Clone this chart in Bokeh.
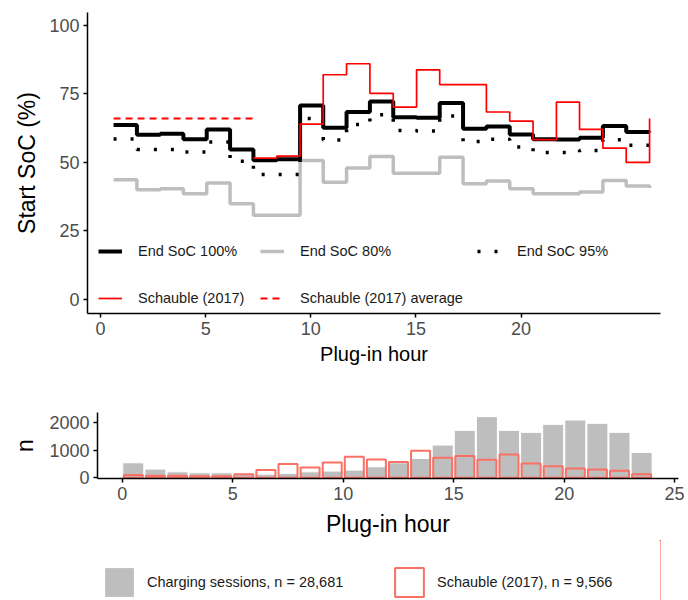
from bokeh.plotting import figure
from bokeh.models import Range1d, FixedTicker, Legend, LegendItem, BoxAnnotation
from bokeh.layouts import column
from bokeh.embed import file_html
from bokeh.resources import INLINE

FONT = "Liberation Sans"

# ---------------- Top panel data: start SoC by plug-in hour ----------------
# x positions of the step corners, as read on the plug-in hour axis
step_hour = [0.62, 1.73, 2.84, 3.94, 5.05, 6.16, 7.27, 8.38, 9.49, 10.59, 11.70, 12.81,
             13.92, 15.03, 16.13, 17.24, 18.35, 19.46, 20.57, 21.68, 22.78, 23.89, 25.00, 26.11]
soc_end100 = [63.7, 60.1, 60.5, 58.5, 62.0, 54.7, 50.8, 51.2, 70.8, 62.7, 68.4, 72.2,
              66.5, 66.3, 71.7, 62.3, 63.1, 60.2, 58.5, 58.4, 59.0, 63.3, 61.1, 61.0]
soc_end80 = [43.7, 40.0, 40.4, 38.6, 42.5, 34.9, 30.7, 30.7, 50.7, 42.8, 48.0, 52.2,
             46.1, 46.1, 51.9, 42.2, 43.2, 40.4, 38.6, 38.6, 39.2, 43.4, 41.4, 40.7]
soc_end95 = [58.6, 54.7, 54.7, 53.8, 57.5, 50.4, 45.6, 45.6, 66.0, 58.2, 63.8, 67.4,
             61.7, 61.5, 66.9, 57.6, 58.5, 55.6, 53.6, 53.6, 54.4, 58.3, 56.3, 55.0]
schauble = [None, None, None, None, None, None, 51.6, 52.3, 64.0, 82.0, 86.0, 75.2,
            70.2, 83.8, 78.4, 78.4, 68.4, 65.1, 58.3, 72.0, 62.1, 55.2, 50.0, 66.0]
schauble_avg = 66.0
schauble_avg_first, schauble_avg_last = 0, 6   # step indices covered by the average line

top_x_ticks = [0, 5, 10, 15, 20]
top_y_ticks = [0, 25, 50, 75, 100]

# ---------------- Bottom panel data: sessions per plug-in hour ----------------
hist_hour = list(range(24))
sessions_n = [543, 314, 217, 181, 181, 125, 133, 156, 217, 243, 278, 398,
              543, 700, 1184, 1715, 2210, 1715, 1642, 1932, 2089, 1968, 1642, 917]
schauble_n = [97, 74, 70, 60, 60, 133, 278, 496, 374, 554, 761, 664,
              570, 978, 725, 785, 652, 845, 520, 422, 338, 302, 254, 133]
bottom_x_ticks = [0, 5, 10, 15, 20, 25]
bottom_y_ticks = [0, 1000, 2000]

BLACK = "#000000"
GREY_LINE = "#BEBEBE"
RED = "#FF0000"
BAR_GREY = "#BEBEBE"
SALMON = "#FA7064"
TICK_COL = "#4D4D4D"


def style_axes(p, tick_size, title_size, title_standoff):
    p.grid.visible = False
    p.outline_line_color = None
    p.background_fill_color = "white"
    for ax in p.axis:
        ax.axis_line_color = "black"
        ax.axis_line_width = 1.5
        ax.major_tick_line_color = "black"
        ax.major_tick_line_width = 1.5
        ax.major_tick_in = 0
        ax.major_tick_out = 4
        ax.minor_tick_line_color = None
        ax.major_label_standoff = 4
        ax.major_label_text_font = FONT
        ax.major_label_text_font_size = tick_size
        ax.major_label_text_color = TICK_COL
        ax.axis_label_text_font = FONT
        ax.axis_label_text_font_size = title_size
        ax.axis_label_text_font_style = "normal"
        ax.axis_label_text_color = "black"
        ax.axis_label_standoff = title_standoff


def single_legend(p, label, renderer, loc, gw, gh, standoff, size="14.5px", level="annotation"):
    leg = Legend(items=[LegendItem(label=label, renderers=[renderer])], location=loc,
                 orientation="horizontal", padding=0, margin=0, spacing=0,
                 border_line_color=None, background_fill_alpha=0,
                 glyph_width=gw, glyph_height=gh, label_standoff=standoff,
                 label_height=gh, label_text_font=FONT, label_text_font_size=size,
                 label_text_color="#1A1A1A", label_text_baseline="middle", level=level)
    p.add_layout(leg)


W = 684

# ---------------- Top figure ----------------
p1 = figure(width=W, height=370, output_backend="svg", toolbar_location=None,
            x_range=Range1d(-0.62, 26.63), y_range=Range1d(-5.1, 104.7),
            min_border_left=87, min_border_right=W - 660, min_border_top=12, min_border_bottom=57,
            frame_align=False)
style_axes(p1, "18px", "23px", 6)
p1.xaxis.axis_label = "Plug-in hour"
p1.xaxis.axis_label_text_font_size = "20px"
p1.xaxis.axis_label_standoff = 5
p1.yaxis.axis_label = "Start SoC (%)"
p1.xaxis.ticker = FixedTicker(ticks=top_x_ticks)
p1.yaxis.ticker = FixedTicker(ticks=top_y_ticks)

r80 = p1.step(step_hour, soc_end80, mode="after", line_color=GREY_LINE, line_width=3.5)
r95 = p1.step(step_hour, soc_end95, mode="after", line_color=BLACK, line_width=3.5,
              line_dash="3 14")
r100 = p1.step(step_hour, soc_end100, mode="after", line_color=BLACK, line_width=4)
red_x = [h for h, v in zip(step_hour, schauble) if v is not None]
red_y = [v for v in schauble if v is not None]
rred = p1.step(red_x, red_y, mode="after", line_color=RED, line_width=1.7)
ravg = p1.line([step_hour[schauble_avg_first], step_hour[schauble_avg_last]],
               [schauble_avg, schauble_avg], line_color=RED, line_width=2, line_dash="7 5")

single_legend(p1, "End SoC 100%", r100, (11, 52), 24, 20, 16)
single_legend(p1, "End SoC 80%", r80, (173, 52), 24, 20, 16)
single_legend(p1, "End SoC 95%", r95, (390, 52), 24, 20, 16)
single_legend(p1, "Schauble (2017)", rred, (11, 5), 24, 20, 16)
single_legend(p1, "Schauble (2017) average", ravg, (173, 5), 24, 20, 16)

# ---------------- Bottom figure ----------------
p2 = figure(width=W, height=170, output_backend="svg", toolbar_location=None,
            x_range=Range1d(-1.12, 25.17), y_range=Range1d(-25, 2360),
            min_border_left=97, min_border_right=W - 678, min_border_top=42, min_border_bottom=62,
            frame_align=False)
style_axes(p2, "18px", "23px", 8)
p2.xaxis.axis_label = "Plug-in hour"
p2.yaxis.axis_label = "n"
p2.xaxis.ticker = FixedTicker(ticks=bottom_x_ticks)
p2.yaxis.ticker = FixedTicker(ticks=bottom_y_ticks)

centers = [h + 0.5 for h in hist_hour]
bar_sessions = dict(width=0.95, fill_color=BAR_GREY, line_color="white", line_width=1)
bar_schauble = dict(width=0.86, fill_color=None, line_color=SALMON, line_width=2)
p2.vbar(x=centers, top=sessions_n, bottom=0, **bar_sessions)
p2.vbar(x=centers, top=schauble_n, bottom=0, **bar_schauble)

# ---------------- Bottom legend strip ----------------
# same bar series with the same style, only so that the legend can show their swatches;
# a white box hides them inside this strip, the legends are drawn above it
p3 = figure(width=W, height=60, output_backend="svg", toolbar_location=None,
            x_range=Range1d(-200, -199), y_range=Range1d(0, 1),
            x_axis_location=None, y_axis_location=None,
            min_border_left=0, min_border_right=24, min_border_top=0, min_border_bottom=0,
            frame_align=False)
p3.grid.visible = False
p3.outline_line_color = None
p3.border_fill_color = "white"
p3.background_fill_color = "white"
g_sessions = p3.vbar(x=centers, top=sessions_n, bottom=0, **bar_sessions)
g_schauble = p3.vbar(x=centers, top=schauble_n, bottom=0, **bar_schauble)
g_sessions.glyph.line_color = None
g_schauble.glyph.fill_color = "white"
p3.add_layout(BoxAnnotation(fill_color="white", fill_alpha=1.0, line_color=None,
                            level="annotation"))
single_legend(p3, "Charging sessions, n = 28,681", g_sessions, (101, 0), 36, 36, 10,
              level="overlay")
single_legend(p3, "Schauble (2017), n = 9,566", g_schauble, (391, 0), 36, 36, 10,
              level="overlay")

layout = column(p1, p2, p3, spacing=0)
open("out.html", "w").write(file_html(layout, INLINE))
